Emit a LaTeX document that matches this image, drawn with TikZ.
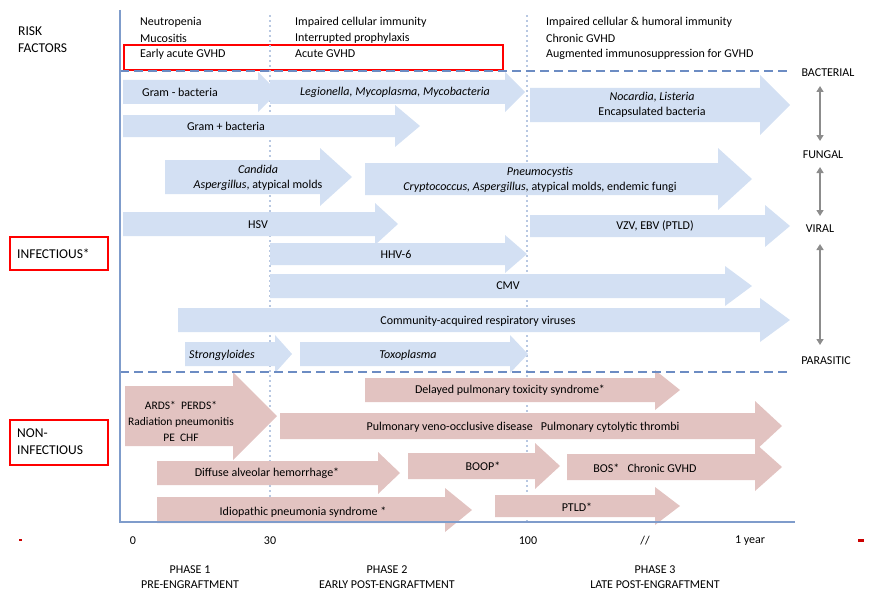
\documentclass[tikz,border=0pt]{standalone}
\usepackage{fontspec}
\setmainfont{Carlito}
\usetikzlibrary{arrows.meta}
\definecolor{bfill}{HTML}{D3E0F3}
\definecolor{pfill}{HTML}{E2C3C1}
\definecolor{axisc}{HTML}{7F9CCB}
\definecolor{dashc}{HTML}{6C8CC3}
\definecolor{dotc}{HTML}{B8C8E2}
\definecolor{garr}{HTML}{8C8C8C}
\newcommand\harrow[7]{% x1, xh, xt, yc, bh, hh, color
\fill[#7] (#1,#4-#5) -- (#2,#4-#5) -- (#2,#4-#6) -- (#3,#4) -- (#2,#4+#6) -- (#2,#4+#5) -- (#1,#4+#5) -- cycle;}
\begin{document}
\begin{tikzpicture}[x=1pt,y=-1pt,
  lab/.style={inner sep=0pt,font=\fontsize{12}{15}\selectfont,align=center},
  txt/.style={inner sep=0pt,font=\fontsize{12}{15}\selectfont,anchor=west},
  side/.style={inner sep=0pt,font=\fontsize{12}{15}\selectfont},
  big/.style={font=\fontsize{13.5}{17}\selectfont},
  redbox/.style={draw=red,line width=2pt},
  darr/.style={garr,line width=1.8pt,{Triangle[length=6pt,width=7pt]}-{Triangle[length=6pt,width=7pt]}}]
\useasboundingbox (0,0) rectangle (874,607);
% risk factors
\node[txt,big,align=left] (rf) at (18,40) {RISK\\FACTORS};
\node[txt] (r11) at (140,22) {Neutropenia};
\node[txt] (r12) at (140,38) {Mucositis};
\node[txt] (r13) at (140,54) {Early acute GVHD};
\node[txt] (r21) at (295,22) {Impaired cellular immunity};
\node[txt] (r22) at (295,38) {Interrupted prophylaxis};
\node[txt] (r23) at (295,54) {Acute GVHD};
\node[txt] (r31) at (546,22) {Impaired cellular \& humoral immunity};
\node[txt] (r32) at (546,38) {Chronic GVHD};
\node[txt] (r33) at (546,54) {Augmented immunosuppression for GVHD};
\draw[redbox] (124,45) rectangle (503,70);
% grid lines
\draw[dotc,line width=1.2pt,dash pattern=on 2pt off 3pt] (270,15) -- (270,522);
\draw[dotc,line width=1.2pt,dash pattern=on 2pt off 3pt] (527,15) -- (527,522);
% blue arrows
\harrow{270}{505}{525}{92}{12}{20}{bfill}
\harrow{123}{258}{278}{92}{12}{20}{bfill}
\harrow{530}{760}{790}{105}{17}{30}{bfill}
\harrow{123}{395}{420}{126}{11}{21}{bfill}
\harrow{165}{320}{352}{177}{17}{29}{bfill}
\harrow{365}{718}{752}{179}{16}{31}{bfill}
\harrow{123}{375}{398}{224}{12}{21}{bfill}
\harrow{530}{765}{790}{226}{11}{21}{bfill}
\harrow{270}{505}{527}{254}{11}{19}{bfill}
\harrow{270}{725}{752}{286}{12}{20}{bfill}
\harrow{178}{760}{790}{320}{12}{22}{bfill}
\harrow{185}{275}{292}{354}{12}{19}{bfill}
\harrow{300}{510}{528}{354}{12}{19}{bfill}
% pink arrows
\harrow{365}{655}{680}{390}{12}{20}{pfill}
\harrow{125}{233}{277}{416}{30}{44}{pfill}
\harrow{280}{755}{782}{426}{13}{25}{pfill}
\harrow{157}{378}{400}{473}{12}{21}{pfill}
\harrow{408}{535}{560}{466}{13}{23}{pfill}
\harrow{567}{755}{782}{467}{13}{24}{pfill}
\harrow{157}{445}{472}{510}{13}{22}{pfill}
\harrow{495}{655}{680}{506}{11}{19}{pfill}
% dashed separators and axes
\draw[dashc,line width=1.5pt,dash pattern=on 9pt off 5pt] (120,71) -- (790,71);
\draw[dashc,line width=1.5pt,dash pattern=on 9pt off 5pt] (120,372) -- (790,372);
\draw[axisc,line width=1.5pt] (120,10) -- (120,522) -- (795,522);
% arrow labels
\node[lab] (a1) at (180,92) {Gram - bacteria};
\node[lab] (a2) at (395,92) {\itshape Legionella, Mycoplasma, Mycobacteria};
\node[lab] (a3) at (652,105) {\itshape Nocardia, Listeria\\Encapsulated bacteria};
\node[lab] (a4) at (226,126) {Gram + bacteria};
\node[lab] (a5) at (258,178) {\itshape Candida\\\itshape Aspergillus\upshape, atypical molds};
\node[lab] (a6) at (540,180) {\itshape Pneumocystis\\\itshape Cryptococcus, Aspergillus,\upshape{} atypical molds, endemic fungi};
\node[lab] (a7) at (258,225) {HSV};
\node[lab] (a8) at (655,226) {VZV, EBV (PTLD)};
\node[lab] (a9) at (396,254) {HHV-6};
\node[lab] (a10) at (508,286) {CMV};
\node[lab] (a11) at (478,321) {Community-acquired respiratory viruses};
\node[lab] (a12) at (222,355) {\itshape Strongyloides};
\node[lab] (a13) at (408,355) {\itshape Toxoplasma};
\node[lab] (p1) at (510,390) {Delayed pulmonary toxicity syndrome*};
\node[lab,font=\fontsize{11.5}{16}\selectfont] (p2) at (181,421) {ARDS*~~PERDS*\\Radiation pneumonitis\\PE~~CHF};
\node[lab] (p3) at (523,427) {Pulmonary veno-occlusive disease~~~Pulmonary cytolytic thrombi};
\node[lab] (p4) at (267,473) {Diffuse alveolar hemorrhage*};
\node[lab] (p5) at (483,466) {BOOP*};
\node[lab] (p6) at (645,468) {BOS*~~~Chronic GVHD};
\node[lab] (p7) at (303,512) {Idiopathic pneumonia syndrome *};
\node[lab] (p8) at (577,507) {PTLD*};
% right side
\node[side] (bac) at (828,73) {BACTERIAL};
\node[side] (fun) at (823,155) {FUNGAL};
\node[side] (vir) at (820,229) {VIRAL};
\node[side] (par) at (826,361) {PARASITIC};
\coordinate (d1) at (820,86);
\coordinate (d2) at (820,141);
\coordinate (d3) at (820,167);
\coordinate (d4) at (820,216);
\coordinate (d5) at (820,244);
\coordinate (d6) at (820,345);
\draw[darr] (d1) -- (d2);
\draw[darr] (d3) -- (d4);
\draw[darr] (d5) -- (d6);
% left boxes
\node[txt,big] (inf) at (17,254) {INFECTIOUS*};
\draw[redbox] (10,237) rectangle (108,270);
\node[txt,big,align=left] (ninf) at (17,442) {NON-\\INFECTIOUS};
\draw[redbox] (10,420) rectangle (108,465);
% axis ticks
\node[side] (t0) at (133,541) {0};
\node[side] (t30) at (270,541) {30};
\node[side] (t100) at (528,541) {100};
\node[side] (tsl) at (645,541) {//};
\node[side] (ty) at (750,541) {1 year};
\node[lab] (ph1) at (190,577) {PHASE 1\\PRE-ENGRAFTMENT};
\node[lab] (ph2) at (387,577) {PHASE 2\\EARLY POST-ENGRAFTMENT};
\node[lab] (ph3) at (655,577) {PHASE 3\\LATE POST-ENGRAFTMENT};
\fill[red!80!black] (19,539) rectangle (22,541);
\fill[red!80!black] (858,539) rectangle (864,542);
\end{tikzpicture}
\end{document}
